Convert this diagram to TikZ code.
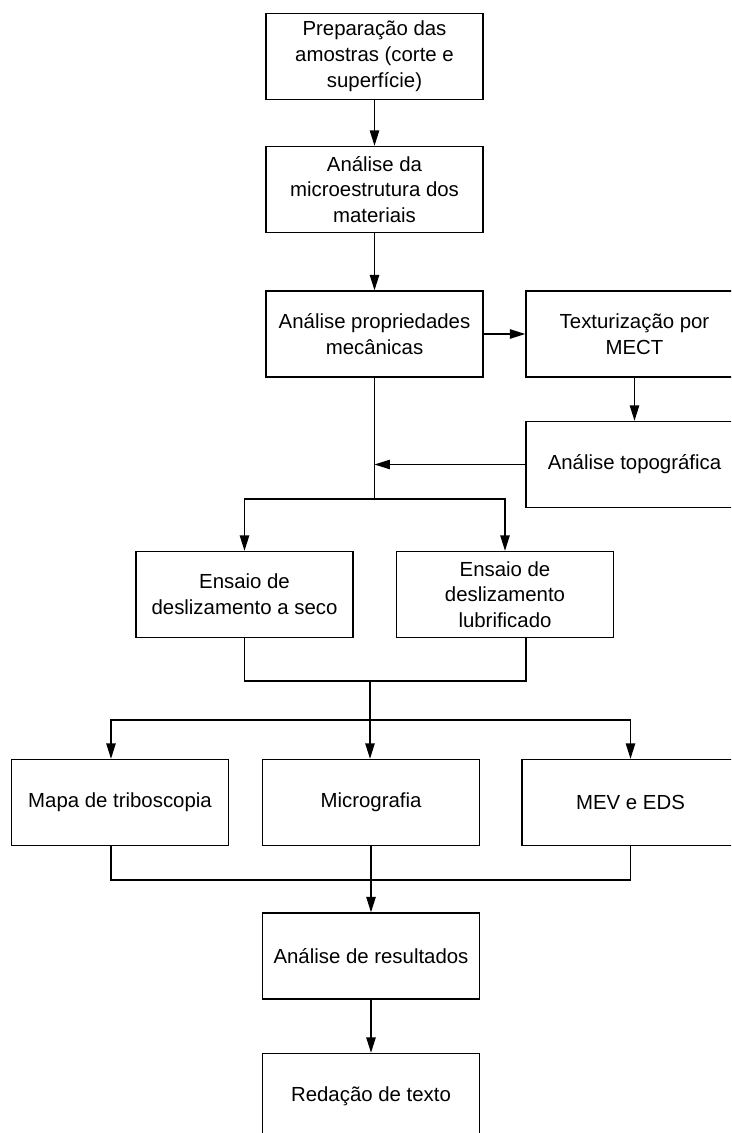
\documentclass[tikz,border=0pt]{standalone}
\usepackage{fontspec}
\setmainfont{Liberation Sans}
\usetikzlibrary{positioning,calc,arrows.meta}
\tikzset{
	etapa/.style={draw, line width=1.2pt, minimum width=6.51cm, minimum height=2.58cm, inner sep=0, align=center, font=\fontsize{17.4}{22}\selectfont},
	seta/.style={line width=1.1pt, -{Triangle[length=0.46cm, width=0.28cm]}},
	linha/.style={line width=1.1pt},
}
\begin{document}
\begin{tikzpicture}[x=0.03cm, y=-0.03cm]
	\useasboundingbox (0,0) rectangle (731,1133);
	\clip (0,0) rectangle (731,1133);
	\node[etapa] (prep) at (374.5,56.5) {Preparação das\\amostras (corte e\\superfície)};
	\node[etapa] (micro) at (374.5,189.5) {Análise da\\microestrutura dos\\materiais};
	\node[etapa] (mec) at (374.5,334) {Análise propriedades\\mecânicas};
	\node[etapa] (textu) at (634.5,334) {Texturização por\\MECT};
	\node[etapa] (topo) at (634.5,464.5) {Análise topográfica};
	\node[etapa] (seco) at (244.5,594.5) {Ensaio de\\deslizamento a seco};
	\node[etapa] (lubri) at (505,594.5) {Ensaio de\\deslizamento\\lubrificado};
	\node[etapa] (mapa) at (120,802.5) {Mapa de triboscopia};
	\node[etapa] (micrografia) at (371,802.5) {Micrografia};
	\node[etapa] (mev) at (630.5,802.5) {MEV e EDS};
	\node[etapa] (result) at (371,956) {Análise de resultados};
	\node[etapa] (redacao) at (371,1096.5) {Redação de texto};
	\coordinate (div1) at (374.5,499);
	\coordinate (jun1) at (370,681);
	\coordinate (div2) at (370,720);
	\coordinate (jun2) at (371,880);
	\draw[seta] (prep) -- (micro);
	\draw[seta] (micro) -- (mec);
	\draw[seta] (mec) -- (textu);
	\draw[seta] (textu) -- (topo);
	\draw[seta] (topo.west) -- (topo.west -| div1);
	\draw[linha] (mec) -- (div1);
	\draw[seta] (div1) -| (seco);
	\draw[seta] (div1) -| (lubri);
	\draw[linha] (seco) |- (jun1) -| ([xshift=0.63cm]lubri.south);
	\draw[linha] (jun1) -- (div2);
	\draw[seta] (div2) -- (div2 |- micrografia.north);
	\draw[seta] (div2) -| ([xshift=-0.27cm]mapa.north);
	\draw[seta] (div2) -| (mev);
	\draw[linha] ([xshift=-0.27cm]mapa.south) |- (jun2) -| (mev.south);
	\draw[seta] (micrografia) -- (result);
	\draw[seta] (result) -- (redacao);
\end{tikzpicture}
\end{document}
